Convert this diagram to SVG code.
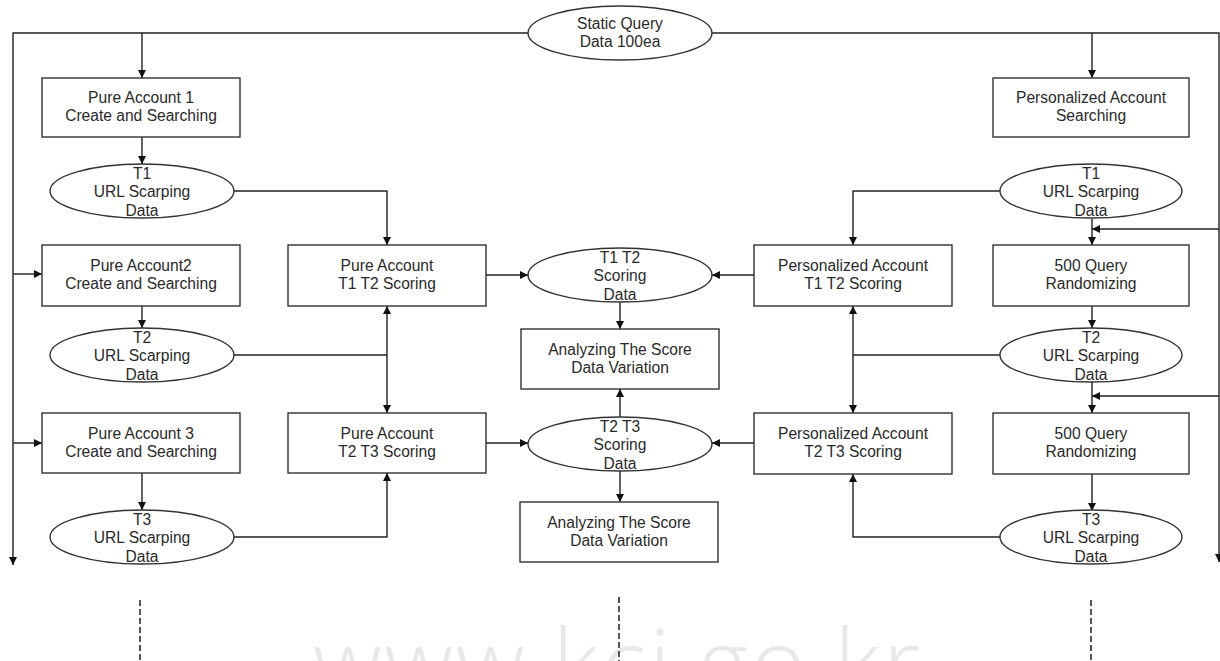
<svg xmlns="http://www.w3.org/2000/svg" width="1220" height="661" viewBox="0 0 1220 661">
<style>
.box{fill:#fff;stroke:#333;stroke-width:1.4}
.ell{fill:#fff;stroke:#333;stroke-width:1.4}
.t{font-family:"Liberation Sans",Arial,sans-serif;font-size:15.6px;fill:#2a2a2a;text-anchor:middle}
.c{fill:none;stroke:#222;stroke-width:1.4}
.d{fill:none;stroke:#555;stroke-width:2;stroke-dasharray:6 3}
.wm{font-family:"Open Sans","Noto Sans",sans-serif;font-size:95px;fill:#e8e8e8;font-weight:300}
</style>
<defs>
<marker id="a" viewBox="0 0 8 8" refX="8" refY="4" markerWidth="8" markerHeight="8" markerUnits="userSpaceOnUse" orient="auto">
<path d="M0,0 L8,4 L0,8 z" fill="#111"/>
</marker>
</defs>
<rect width="1220" height="661" fill="#fff"/>
<text class="wm" x="313" y="698" textLength="607" lengthAdjust="spacing">www.kci.go.kr</text>

<g id="connectors">
<path class="c" d="M528,33 H13 V565" marker-end="url(#a)"/>
<path class="c" d="M712,33 H1219 V562" marker-end="url(#a)"/>
<path class="c" d="M142,33 V78" marker-end="url(#a)"/>
<path class="c" d="M1092,33 V78" marker-end="url(#a)"/>
<path class="c" d="M13,274 H42" marker-end="url(#a)"/>
<path class="c" d="M13,443 H42" marker-end="url(#a)"/>
<path class="c" d="M142,137 V164" marker-end="url(#a)"/>
<path class="c" d="M142,306 V328" marker-end="url(#a)"/>
<path class="c" d="M142,473 V510" marker-end="url(#a)"/>
<path class="c" d="M233,191 H387 V245" marker-end="url(#a)"/>
<path class="c" d="M233,355 H387"/>
<path class="c" d="M387,355 V306" marker-end="url(#a)"/>
<path class="c" d="M387,355 V413" marker-end="url(#a)"/>
<path class="c" d="M233,537 H387 V473" marker-end="url(#a)"/>
<path class="c" d="M486,275 H528" marker-end="url(#a)"/>
<path class="c" d="M486,443 H528" marker-end="url(#a)"/>
<path class="c" d="M754,275 H712" marker-end="url(#a)"/>
<path class="c" d="M754,443 H712" marker-end="url(#a)"/>
<path class="c" d="M620,302 V329" marker-end="url(#a)"/>
<path class="c" d="M620,417 V389" marker-end="url(#a)"/>
<path class="c" d="M620,471 V502" marker-end="url(#a)"/>
<path class="c" d="M1000,191 H853 V245" marker-end="url(#a)"/>
<path class="c" d="M1092,219 V245" marker-end="url(#a)"/>
<path class="c" d="M1219,229 H1092" marker-end="url(#a)"/>
<path class="c" d="M1092,306 V328" marker-end="url(#a)"/>
<path class="c" d="M1000,355 H853"/>
<path class="c" d="M853,355 V306" marker-end="url(#a)"/>
<path class="c" d="M853,355 V413" marker-end="url(#a)"/>
<path class="c" d="M1092,382 V413" marker-end="url(#a)"/>
<path class="c" d="M1219,396 H1092" marker-end="url(#a)"/>
<path class="c" d="M1092,474 V511" marker-end="url(#a)"/>
<path class="c" d="M1000,537 H853 V474" marker-end="url(#a)"/>
<path class="d" d="M140,600 V661"/>
<path class="d" d="M619,597 V661"/>
<path class="d" d="M1091,600 V661"/>
</g>

<g id="static-query">
<ellipse class="ell" cx="620" cy="33" rx="92" ry="27"/>
<text class="t" x="620" y="29">Static Query</text>
<text class="t" x="620" y="47">Data 100ea</text>
</g>

<g id="pure1">
<rect class="box" x="42" y="78" width="198" height="59"/>
<text class="t" x="141" y="103">Pure Account 1</text>
<text class="t" x="141" y="121">Create and Searching</text>
</g>
<g id="pure1-t1">
<ellipse class="ell" cx="142" cy="191" rx="92" ry="27"/>
<text class="t" x="142" y="179">T1</text>
<text class="t" x="142" y="197">URL Scarping</text>
<text class="t" x="142" y="215.5">Data</text>
</g>
<g id="pure2">
<rect class="box" x="42" y="245" width="198" height="61"/>
<text class="t" x="141" y="271">Pure Account2</text>
<text class="t" x="141" y="289">Create and Searching</text>
</g>
<g id="pure2-t2">
<ellipse class="ell" cx="142" cy="355" rx="92" ry="27"/>
<text class="t" x="142" y="343">T2</text>
<text class="t" x="142" y="361">URL Scarping</text>
<text class="t" x="142" y="379.5">Data</text>
</g>
<g id="pure3">
<rect class="box" x="42" y="413" width="198" height="60"/>
<text class="t" x="141" y="439">Pure Account 3</text>
<text class="t" x="141" y="457">Create and Searching</text>
</g>
<g id="pure3-t3">
<ellipse class="ell" cx="142" cy="537" rx="92" ry="27"/>
<text class="t" x="142" y="525">T3</text>
<text class="t" x="142" y="543">URL Scarping</text>
<text class="t" x="142" y="561.5">Data</text>
</g>

<g id="pure-t1t2">
<rect class="box" x="288" y="245" width="198" height="61"/>
<text class="t" x="387" y="271">Pure Account</text>
<text class="t" x="387" y="289">T1 T2 Scoring</text>
</g>
<g id="pure-t2t3">
<rect class="box" x="288" y="413" width="198" height="60"/>
<text class="t" x="387" y="439">Pure Account</text>
<text class="t" x="387" y="457">T2 T3 Scoring</text>
</g>

<g id="t1t2-scoring">
<ellipse class="ell" cx="620" cy="275" rx="92" ry="27"/>
<text class="t" x="620" y="263">T1 T2</text>
<text class="t" x="620" y="281">Scoring</text>
<text class="t" x="620" y="299.5">Data</text>
</g>
<g id="analyze1">
<rect class="box" x="521" y="329" width="198" height="60"/>
<text class="t" x="620" y="355">Analyzing The Score</text>
<text class="t" x="620" y="373">Data Variation</text>
</g>
<g id="t2t3-scoring">
<ellipse class="ell" cx="620" cy="444" rx="92" ry="27"/>
<text class="t" x="620" y="432">T2 T3</text>
<text class="t" x="620" y="450">Scoring</text>
<text class="t" x="620" y="468.5">Data</text>
</g>
<g id="analyze2">
<rect class="box" x="520" y="502" width="198" height="60"/>
<text class="t" x="619" y="528">Analyzing The Score</text>
<text class="t" x="619" y="546">Data Variation</text>
</g>

<g id="pers-t1t2">
<rect class="box" x="754" y="245" width="198" height="61"/>
<text class="t" x="853" y="271">Personalized Account</text>
<text class="t" x="853" y="289">T1 T2 Scoring</text>
</g>
<g id="pers-t2t3">
<rect class="box" x="754" y="413" width="198" height="61"/>
<text class="t" x="853" y="439">Personalized Account</text>
<text class="t" x="853" y="457">T2 T3 Scoring</text>
</g>

<g id="pers-search">
<rect class="box" x="993" y="78" width="196" height="59"/>
<text class="t" x="1091" y="103">Personalized Account</text>
<text class="t" x="1091" y="121">Searching</text>
</g>
<g id="pers-t1">
<ellipse class="ell" cx="1091" cy="191" rx="91" ry="27"/>
<text class="t" x="1091" y="179">T1</text>
<text class="t" x="1091" y="197">URL Scarping</text>
<text class="t" x="1091" y="215.5">Data</text>
</g>
<g id="query1">
<rect class="box" x="993" y="245" width="196" height="61"/>
<text class="t" x="1091" y="271">500 Query</text>
<text class="t" x="1091" y="289">Randomizing</text>
</g>
<g id="pers-t2">
<ellipse class="ell" cx="1091" cy="355" rx="91" ry="27"/>
<text class="t" x="1091" y="343">T2</text>
<text class="t" x="1091" y="361">URL Scarping</text>
<text class="t" x="1091" y="379.5">Data</text>
</g>
<g id="query2">
<rect class="box" x="993" y="413" width="196" height="61"/>
<text class="t" x="1091" y="439">500 Query</text>
<text class="t" x="1091" y="457">Randomizing</text>
</g>
<g id="pers-t3">
<ellipse class="ell" cx="1091" cy="537" rx="91" ry="27"/>
<text class="t" x="1091" y="525">T3</text>
<text class="t" x="1091" y="543">URL Scarping</text>
<text class="t" x="1091" y="561.5">Data</text>
</g>
</svg>
